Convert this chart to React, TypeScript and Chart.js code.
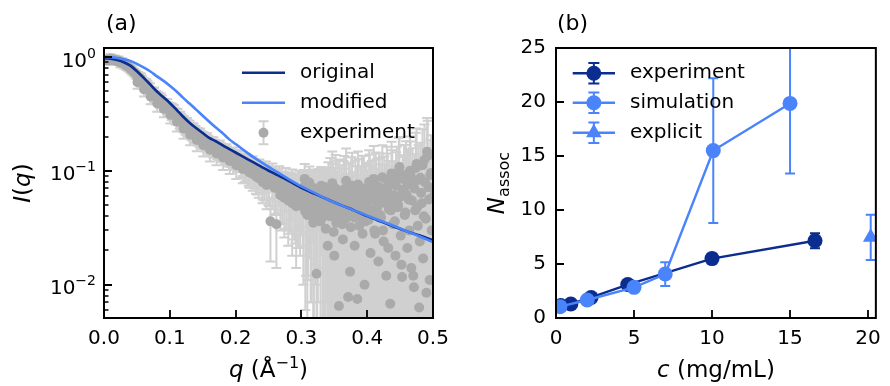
import React, { useEffect, useRef } from "react";
import { Chart, registerables } from "chart.js";

Chart.register(...registerables);

const FONT = '"DejaVu Sans", "Noto Sans", sans-serif';
const DARK = "#0a2d8f";
const LIGHT = "#4a84fb";
const GRAY = "#aaaaaa";
const LIGHTGRAY = "#d0d0d0";

// ---------- Panel (a) ----------
const qModel = [0, 0.01, 0.02, 0.03, 0.04, 0.05, 0.06, 0.07, 0.08, 0.09, 0.1, 0.11, 0.12, 0.13, 0.14, 0.15, 0.16, 0.17, 0.18, 0.19, 0.2, 0.22, 0.24, 0.26, 0.28, 0.3, 0.32, 0.34, 0.36, 0.38, 0.4, 0.42, 0.44, 0.46, 0.48, 0.5];
const iOriginal = [0.97, 0.965, 0.94, 0.9, 0.84, 0.75, 0.66, 0.575, 0.5, 0.445, 0.395, 0.345, 0.3, 0.265, 0.238, 0.215, 0.195, 0.182, 0.168, 0.156, 0.145, 0.125, 0.108, 0.094, 0.082, 0.071, 0.063, 0.056, 0.05, 0.045, 0.04, 0.036, 0.0325, 0.0295, 0.027, 0.0245];
const iModified = [1.0, 0.995, 0.98, 0.955, 0.925, 0.87, 0.81, 0.75, 0.68, 0.62, 0.56, 0.5, 0.44, 0.39, 0.345, 0.305, 0.27, 0.24, 0.215, 0.19, 0.172, 0.141, 0.118, 0.1, 0.085, 0.073, 0.064, 0.056, 0.05, 0.045, 0.0405, 0.0365, 0.033, 0.0295, 0.0265, 0.0237];

const qExp = [
  0.004, 0.007, 0.01, 0.013, 0.016, 0.019, 0.022, 0.025, 0.028, 0.031, 0.034, 0.037, 0.04, 0.043, 0.046, 0.049,
  0.052, 0.055, 0.058, 0.061, 0.064, 0.067, 0.07, 0.073, 0.076, 0.079, 0.082, 0.085, 0.088, 0.091, 0.094, 0.097, 0.1,
  0.103, 0.106, 0.109, 0.112, 0.115, 0.118, 0.121, 0.124, 0.127, 0.13, 0.133, 0.136, 0.139, 0.142, 0.145, 0.148, 0.151, 0.154, 0.157, 0.16, 0.163, 0.166, 0.169, 0.172, 0.175, 0.178, 0.181, 0.184, 0.187, 0.19, 0.193, 0.196, 0.199,
  0.202, 0.205, 0.208, 0.211, 0.214, 0.217, 0.22, 0.223, 0.226, 0.229, 0.232, 0.235, 0.238, 0.241, 0.244, 0.247, 0.25, 0.253, 0.256, 0.259, 0.262, 0.265, 0.268, 0.271, 0.274, 0.277, 0.28, 0.283, 0.286, 0.289, 0.292, 0.295, 0.298,
  0.301, 0.303, 0.305, 0.307, 0.309, 0.311, 0.313, 0.315, 0.317, 0.319,
  0.321, 0.323, 0.325, 0.327, 0.329, 0.331, 0.333, 0.335, 0.337, 0.339,
  0.341, 0.343, 0.345, 0.347, 0.349, 0.351, 0.353, 0.355, 0.357, 0.359,
  0.361, 0.363, 0.365, 0.367, 0.369, 0.371, 0.373, 0.375, 0.377, 0.379,
  0.381, 0.383, 0.385, 0.387, 0.389, 0.391, 0.393, 0.395, 0.397, 0.399,
  0.401, 0.403, 0.405, 0.407, 0.409, 0.411, 0.413, 0.415, 0.417, 0.419,
  0.421, 0.423, 0.425, 0.427, 0.429, 0.431, 0.433, 0.435, 0.437, 0.439,
  0.441, 0.443, 0.445, 0.447, 0.449, 0.451, 0.453, 0.455, 0.457, 0.459,
  0.461, 0.463, 0.465, 0.467, 0.469, 0.471, 0.473, 0.475, 0.477, 0.479,
  0.481, 0.483, 0.485, 0.487, 0.489, 0.491, 0.493, 0.495, 0.497, 0.499,
  0.051, 0.056, 0.061, 0.066, 0.071, 0.076, 0.081, 0.086, 0.091, 0.096,
  0.101, 0.106, 0.111, 0.116, 0.121, 0.126, 0.131, 0.136, 0.141, 0.146,
  0.151, 0.156, 0.161, 0.166, 0.171, 0.176, 0.181, 0.186, 0.191, 0.196,
  0.201, 0.206, 0.211, 0.216, 0.221, 0.226, 0.231, 0.236, 0.241, 0.246,
  0.251, 0.256, 0.261, 0.266, 0.271, 0.276, 0.281, 0.286, 0.291, 0.296,
  0.302, 0.304, 0.306, 0.308, 0.31, 0.312, 0.314, 0.316, 0.318, 0.32,
  0.322, 0.324, 0.326, 0.328, 0.33, 0.332, 0.334, 0.336, 0.338, 0.34,
  0.342, 0.344, 0.346, 0.348, 0.35, 0.352, 0.354, 0.356, 0.358, 0.36,
  0.362, 0.364, 0.366, 0.368, 0.37, 0.372, 0.374, 0.376, 0.378, 0.38,
  0.382, 0.384, 0.386, 0.388, 0.39, 0.392, 0.394, 0.396, 0.398, 0.4,
  0.402, 0.404, 0.406, 0.408, 0.41, 0.412, 0.414, 0.416, 0.418, 0.42,
  0.422, 0.424, 0.426, 0.428, 0.43, 0.432, 0.434, 0.436, 0.438, 0.44,
  0.442, 0.444, 0.446, 0.448, 0.45, 0.452, 0.454, 0.456, 0.458, 0.46,
  0.462, 0.464, 0.466, 0.468, 0.47, 0.472, 0.474, 0.476, 0.478, 0.48,
  0.482, 0.484, 0.486, 0.488, 0.49, 0.492, 0.494, 0.496, 0.498, 0.5,
];
const iExp = [
  0.95, 0.93, 0.97, 0.94, 0.95, 0.92, 0.93, 0.89, 0.9, 0.86, 0.84, 0.82, 0.79, 0.76, 0.73, 0.7,
  0.66, 0.65, 0.61, 0.58, 0.57, 0.53, 0.52, 0.48, 0.48, 0.45, 0.44, 0.41, 0.41, 0.38, 0.38, 0.355, 0.35,
  0.335, 0.325, 0.305, 0.3, 0.28, 0.27, 0.26, 0.25, 0.24, 0.235, 0.225, 0.215, 0.212, 0.203, 0.198, 0.19, 0.188, 0.18, 0.177, 0.17, 0.168, 0.16, 0.16, 0.155, 0.152, 0.148, 0.145, 0.14, 0.139, 0.134, 0.133, 0.128, 0.126,
  0.122, 0.126, 0.112, 0.116, 0.106, 0.11, 0.1, 0.104, 0.094, 0.098, 0.089, 0.086, 0.092, 0.08, 0.084, 0.075, 0.08, 0.036, 0.076, 0.071, 0.034, 0.072, 0.061, 0.066, 0.058, 0.064, 0.055, 0.062, 0.052, 0.06, 0.049, 0.057, 0.054,
  0.062, 0.048, 0.085, 0.052, 0.041, 0.066, 0.057, 0.045, 0.071, 0.038,
  0.055, 0.0125, 0.049, 0.068, 0.036, 0.058, 0.044, 0.072, 0.031, 0.052,
  0.061, 0.04, 0.047, 0.078, 0.029, 0.054, 0.035, 0.063, 0.0065, 0.043,
  0.057, 0.025, 0.069, 0.038, 0.048, 0.0078, 0.06, 0.032, 0.074, 0.045,
  0.022, 0.056, 0.0075, 0.065, 0.04, 0.051, 0.028, 0.07, 0.036, 0.058,
  0.047, 0.08, 0.019, 0.062, 0.042, 0.03, 0.075, 0.053, 0.016, 0.066,
  0.039, 0.088, 0.024, 0.057, 0.012, 0.072, 0.046, 0.0068, 0.095, 0.034,
  0.061, 0.018, 0.083, 0.05, 0.108, 0.027, 0.0117, 0.069, 0.041, 0.092,
  0.021, 0.056, 0.1, 0.014, 0.078, 0.0095, 0.045, 0.115, 0.033, 0.0063,
  0.087, 0.052, 0.017, 0.125, 0.038, 0.147, 0.072, 0.011, 0.096, 0.058,
  0.6, 0.64, 0.52, 0.55, 0.45, 0.47, 0.39, 0.42, 0.35, 0.37,
  0.31, 0.33, 0.27, 0.285, 0.235, 0.25, 0.208, 0.222, 0.187, 0.2,
  0.168, 0.182, 0.153, 0.166, 0.142, 0.155, 0.131, 0.143, 0.122, 0.133,
  0.112, 0.124, 0.104, 0.115, 0.097, 0.108, 0.09, 0.099, 0.083, 0.093,
  0.077, 0.087, 0.071, 0.08, 0.066, 0.075, 0.062, 0.07, 0.057, 0.065,
  0.058, 0.072, 0.044, 0.063, 0.051, 0.079, 0.047, 0.06, 0.035, 0.067,
  0.05, 0.041, 0.065, 0.056, 0.074, 0.039, 0.061, 0.048, 0.069, 0.022,
  0.054, 0.066, 0.043, 0.059, 0.018, 0.07, 0.05, 0.037, 0.064, 0.046,
  0.034, 0.062, 0.053, 0.082, 0.041, 0.058, 0.013, 0.067, 0.049, 0.039,
  0.063, 0.047, 0.076, 0.033, 0.055, 0.069, 0.044, 0.01, 0.06, 0.051,
  0.037, 0.071, 0.056, 0.045, 0.085, 0.028, 0.064, 0.049, 0.072, 0.041,
  0.058, 0.03, 0.068, 0.052, 0.083, 0.021, 0.062, 0.045, 0.077, 0.055,
  0.036, 0.074, 0.048, 0.099, 0.059, 0.015, 0.067, 0.084, 0.043, 0.062,
  0.076, 0.03, 0.091, 0.055, 0.012, 0.07, 0.106, 0.048, 0.083, 0.024,
  0.064, 0.112, 0.04, 0.079, 0.0085, 0.135, 0.056, 0.092, 0.03, 0.07,
];
const eExp = [
  0.08, 0.07, 0.09, 0.08, 0.08, 0.07, 0.08, 0.08, 0.075, 0.07, 0.07, 0.07, 0.065, 0.065, 0.06, 0.06,
  0.08, 0.07, 0.075, 0.07, 0.07, 0.065, 0.065, 0.06, 0.06, 0.055, 0.055, 0.05, 0.05, 0.05, 0.048, 0.045, 0.045,
  0.055, 0.05, 0.05, 0.048, 0.046, 0.045, 0.043, 0.042, 0.04, 0.04, 0.038, 0.037, 0.036, 0.035, 0.034, 0.033, 0.032, 0.031, 0.03, 0.03, 0.03, 0.029, 0.028, 0.028, 0.027, 0.027, 0.026, 0.026, 0.025, 0.025, 0.025, 0.024, 0.024,
  0.025, 0.026, 0.025, 0.026, 0.026, 0.027, 0.026, 0.027, 0.027, 0.028, 0.027, 0.028, 0.028, 0.028, 0.029, 0.029, 0.03, 0.02, 0.03, 0.03, 0.02, 0.031, 0.031, 0.032, 0.032, 0.033, 0.033, 0.034, 0.034, 0.035, 0.035, 0.036, 0.036,
  0.035, 0.038, 0.03, 0.04, 0.036, 0.034, 0.04, 0.038, 0.032, 0.04,
  0.04, 0.03, 0.042, 0.036, 0.042, 0.04, 0.044, 0.034, 0.042, 0.045,
  0.058, 0.04, 0.045, 0.07, 0.035, 0.052, 0.035, 0.06, 0.04, 0.042,
  0.055, 0.035, 0.066, 0.038, 0.046, 0.04, 0.058, 0.035, 0.07, 0.044,
  0.035, 0.054, 0.04, 0.062, 0.04, 0.05, 0.035, 0.066, 0.036, 0.056,
  0.045, 0.072, 0.035, 0.06, 0.041, 0.035, 0.07, 0.052, 0.035, 0.064,
  0.04, 0.08, 0.035, 0.056, 0.04, 0.07, 0.045, 0.04, 0.085, 0.04,
  0.06, 0.04, 0.08, 0.05, 0.09, 0.04, 0.045, 0.068, 0.045, 0.09,
  0.045, 0.056, 0.1, 0.05, 0.08, 0.05, 0.05, 0.12, 0.05, 0.05,
  0.09, 0.055, 0.05, 0.13, 0.05, 0.145, 0.075, 0.06, 0.11, 0.06,
  0.075, 0.075, 0.07, 0.07, 0.065, 0.065, 0.06, 0.06, 0.055, 0.055,
  0.05, 0.05, 0.048, 0.046, 0.044, 0.042, 0.04, 0.039, 0.038, 0.036,
  0.034, 0.033, 0.032, 0.031, 0.03, 0.03, 0.029, 0.028, 0.028, 0.027,
  0.027, 0.026, 0.026, 0.026, 0.026, 0.026, 0.027, 0.027, 0.027, 0.028,
  0.028, 0.029, 0.029, 0.03, 0.031, 0.031, 0.032, 0.033, 0.034, 0.035,
  0.036, 0.03, 0.038, 0.034, 0.04, 0.03, 0.04, 0.036, 0.04, 0.035,
  0.04, 0.042, 0.036, 0.042, 0.034, 0.044, 0.04, 0.044, 0.038, 0.045,
  0.052, 0.064, 0.042, 0.057, 0.035, 0.068, 0.048, 0.036, 0.062, 0.045,
  0.035, 0.06, 0.052, 0.075, 0.04, 0.056, 0.04, 0.065, 0.048, 0.038,
  0.06, 0.046, 0.072, 0.035, 0.054, 0.066, 0.043, 0.04, 0.058, 0.05,
  0.036, 0.068, 0.054, 0.044, 0.08, 0.035, 0.062, 0.048, 0.07, 0.04,
  0.056, 0.035, 0.066, 0.05, 0.08, 0.035, 0.06, 0.044, 0.075, 0.054,
  0.04, 0.072, 0.047, 0.095, 0.058, 0.04, 0.066, 0.085, 0.045, 0.062,
  0.078, 0.045, 0.09, 0.056, 0.05, 0.07, 0.11, 0.05, 0.085, 0.045,
  0.065, 0.12, 0.05, 0.08, 0.05, 0.14, 0.06, 0.095, 0.05, 0.07,
];

const qTicks = [0, 0.1, 0.2, 0.3, 0.4, 0.5];
const logMajorTicks = [0.01, 0.1, 1];
const logTickBase = "10";
const logTickExponents = ["\u22122", "\u22121", "0"];
const logMinorTicks = [0.006, 0.007, 0.008, 0.009, 0.02, 0.03, 0.04, 0.05, 0.06, 0.07, 0.08, 0.09, 0.2, 0.3, 0.4, 0.5, 0.6, 0.7, 0.8, 0.9];

// ---------- Panel (b) ----------
const cExperiment = [0.3, 0.95, 2.25, 4.6, 10.0, 16.6];
const nExperiment = [1.15, 1.3, 1.9, 3.1, 5.5, 7.15];
const errExperiment = [0.2, 0.25, 0.3, 0.35, 0.45, 0.7];
const cSimulation = [0.25, 2.0, 5.0, 7.0, 10.08, 15.0];
const nSimulation = [1.05, 1.67, 2.84, 4.07, 15.5, 19.87];
const errSimulation = [0.2, 0.3, 0.35, 1.1, 6.7, 6.5];
const cExplicit = [20.17];
const nExplicit = [7.47];
const errExplicit = [2.1];
const cTicks = [0, 5, 10, 15, 20];
const nTicks = [0, 5, 10, 15, 20, 25];

// ---------- drawing helpers ----------
type Run = { t: string; size: number; italic?: boolean; dy?: number };
const fontOf = (r: Run) => `${r.italic ? "italic " : ""}${r.size}px ${FONT}`;

function drawRuns(ctx: CanvasRenderingContext2D, runs: Run[], x: number, y: number, vertical: boolean, align: "center" | "right" = "center") {
  ctx.save();
  ctx.translate(x, y);
  if (vertical) ctx.rotate(-Math.PI / 2);
  ctx.textAlign = "left";
  ctx.textBaseline = "alphabetic";
  ctx.fillStyle = "#000";
  let total = 0;
  const widths = runs.map((r) => {
    ctx.font = fontOf(r);
    const w = ctx.measureText(r.t).width;
    total += w;
    return w;
  });
  let cx = align === "center" ? -total / 2 : -total;
  runs.forEach((r, i) => {
    ctx.font = fontOf(r);
    ctx.fillText(r.t, cx, r.dy || 0);
    cx += widths[i];
  });
  ctx.restore();
}

function drawMarker(ctx: CanvasRenderingContext2D, style: string, x: number, y: number, r: number, color: string) {
  ctx.fillStyle = color;
  ctx.beginPath();
  if (style === "triangle") {
    ctx.moveTo(x, y - r);
    ctx.lineTo(x + r * 0.866, y + r / 2);
    ctx.lineTo(x - r * 0.866, y + r / 2);
    ctx.closePath();
  } else {
    ctx.arc(x, y, r, 0, Math.PI * 2);
  }
  ctx.fill();
}

function drawErrBar(ctx: CanvasRenderingContext2D, x: number, yTop: number, yBot: number, cap: number) {
  ctx.beginPath();
  ctx.moveTo(x, yTop);
  ctx.lineTo(x, yBot);
  ctx.moveTo(x - cap, yTop);
  ctx.lineTo(x + cap, yTop);
  ctx.moveTo(x - cap, yBot);
  ctx.lineTo(x + cap, yBot);
  ctx.stroke();
}

type Spec = {
  id: string;
  panel: string;
  panelX: number;
  xTitle: Run[];
  yTitle: Run[];
  yTitleX: number;
  xTitleY: number;
  minorY: number[];
  yLabels?: { value: number; runs: Run[] }[];
  legend: { x0: number; x1: number; textX: number; rows: { index: number; y: number }[]; errHalf: number; cap: number };
};

function makeDecor(spec: Spec) {
  return {
    id: spec.id,
    beforeDatasetDraw(chart: any, args: any) {
      const ds: any = chart.data.datasets[args.index];
      if (!ds.errors) return;
      const { ctx, chartArea: ca } = chart;
      const xs = chart.scales.x;
      const ys = chart.scales.y;
      ctx.save();
      ctx.beginPath();
      ctx.rect(ca.left, ca.top, ca.right - ca.left, ca.bottom - ca.top);
      ctx.clip();
      ctx.strokeStyle = ds.errorColor;
      ctx.lineWidth = ds.errorWidth;
      ds.data.forEach((p: any, i: number) => {
        const px = xs.getPixelForValue(p.x);
        const lo = p.y - ds.errors[i];
        const hi = p.y + ds.errors[i];
        const yLo = ys.type === "logarithmic" && lo <= 0 ? ca.bottom + 30 : ys.getPixelForValue(lo);
        const yHi = ys.getPixelForValue(hi);
        drawErrBar(ctx, px, yHi, yLo, ds.capHalf);
      });
      ctx.restore();
    },
    afterDatasetsDraw(chart: any) {
      const { ctx, chartArea: ca } = chart;
      const xs = chart.scales.x;
      const ys = chart.scales.y;
      ctx.save();
      ctx.strokeStyle = "#000";
      ctx.lineWidth = 1.8;
      ctx.beginPath();
      xs.ticks.forEach((t: any) => {
        const px = Math.round(xs.getPixelForValue(t.value));
        ctx.moveTo(px, ca.bottom);
        ctx.lineTo(px, ca.bottom - 8);
      });
      ys.ticks.forEach((t: any) => {
        const py = Math.round(ys.getPixelForValue(t.value));
        ctx.moveTo(ca.left, py);
        ctx.lineTo(ca.left + 8, py);
      });
      ctx.stroke();
      ctx.lineWidth = 1.3;
      ctx.beginPath();
      spec.minorY.forEach((v) => {
        const py = Math.round(ys.getPixelForValue(v));
        if (py < ca.top || py > ca.bottom) return;
        ctx.moveTo(ca.left, py);
        ctx.lineTo(ca.left + 4.5, py);
      });
      ctx.stroke();
      ctx.lineWidth = 2;
      ctx.strokeRect(ca.left, ca.top, ca.right - ca.left, ca.bottom - ca.top);
      ctx.restore();

      if (spec.yLabels) {
        spec.yLabels.forEach((l) => {
          const py = ys.getPixelForValue(l.value);
          drawRuns(ctx, l.runs, ca.left - 8, py + 9.5, false, "right");
        });
      }

      const L = spec.legend;
      L.rows.forEach((row) => {
        const ds: any = chart.data.datasets[row.index];
        const y = row.y;
        const xm = (L.x0 + L.x1) / 2;
        ctx.save();
        if (ds.showLine !== false) {
          ctx.strokeStyle = ds.borderColor;
          ctx.lineWidth = ds.borderWidth;
          ctx.beginPath();
          ctx.moveTo(L.x0, y);
          ctx.lineTo(L.x1, y);
          ctx.stroke();
        }
        if (ds.errors) {
          ctx.strokeStyle = ds.errorColor;
          ctx.lineWidth = ds.errorWidth;
          drawErrBar(ctx, xm, y - L.errHalf, y + L.errHalf, L.cap);
        }
        if (ds.pointRadius > 0) drawMarker(ctx, ds.pointStyle || "circle", xm, y, ds.pointRadius, ds.backgroundColor);
        ctx.fillStyle = "#000";
        ctx.font = `20px ${FONT}`;
        ctx.textAlign = "left";
        ctx.textBaseline = "alphabetic";
        ctx.fillText(ds.label, L.textX, y + 5);
        ctx.restore();
      });

      drawRuns(ctx, spec.xTitle, (ca.left + ca.right) / 2, spec.xTitleY, false);
      drawRuns(ctx, spec.yTitle, spec.yTitleX, (ca.top + ca.bottom) / 2, true);
      ctx.save();
      ctx.fillStyle = "#000";
      ctx.font = `22px ${FONT}`;
      ctx.textAlign = "left";
      ctx.textBaseline = "alphabetic";
      ctx.fillText(spec.panel, ca.left + spec.panelX, 30);
      ctx.restore();
    },
  };
}

const tickFont = { family: FONT, size: 20 };

function baseAxis(extra: any) {
  return {
    grid: { display: false, drawTicks: false },
    border: { display: false },
    ...extra,
  };
}

function panelA(canvas: HTMLCanvasElement) {
  const spec: Spec = {
    id: "decorA",
    panel: "(a)",
    panelX: 2,
    xTitle: [
      { t: "q", size: 23, italic: true },
      { t: " (\u00C5", size: 23 },
      { t: "\u22121", size: 16, dy: -9 },
      { t: ")", size: 23 },
    ],
    yTitle: [
      { t: "I", size: 23, italic: true },
      { t: "(", size: 23 },
      { t: "q", size: 23, italic: true },
      { t: ")", size: 23 },
    ],
    yTitleX: 30,
    xTitleY: 377,
    minorY: logMinorTicks,
    yLabels: logMajorTicks.map((v, i) => ({
      value: v,
      runs: [
        { t: logTickBase, size: 20 },
        { t: logTickExponents[i], size: 14, dy: -9 },
      ],
    })),
    legend: {
      x0: 242,
      x1: 285,
      textX: 300,
      rows: [
        { index: 0, y: 72.7 },
        { index: 1, y: 102.7 },
        { index: 2, y: 132.7 },
      ],
      errHalf: 11.5,
      cap: 5,
    },
  };
  return new Chart(canvas, {
    type: "line",
    data: {
      datasets: [
        {
          label: "original",
          data: qModel.map((q, i) => ({ x: q, y: iOriginal[i] })),
          borderColor: DARK,
          backgroundColor: DARK,
          borderWidth: 2.6,
          pointRadius: 0,
          cubicInterpolationMode: "monotone",
          clip: 0,
          order: 1,
        },
        {
          label: "modified",
          data: qModel.map((q, i) => ({ x: q, y: iModified[i] })),
          borderColor: LIGHT,
          backgroundColor: LIGHT,
          borderWidth: 2.6,
          pointRadius: 0,
          cubicInterpolationMode: "monotone",
          clip: 0,
          order: 0,
        },
        {
          label: "experiment",
          data: qExp.map((q, i) => ({ x: q, y: iExp[i] })),
          showLine: false,
          borderColor: GRAY,
          backgroundColor: GRAY,
          pointBackgroundColor: GRAY,
          pointBorderWidth: 0,
          pointRadius: 5,
          errors: eExp,
          errorColor: LIGHTGRAY,
          errorWidth: 2,
          capHalf: 5,
          clip: 0,
          order: 2,
        } as any,
      ],
    },
    options: {
      animation: false,
      responsive: false,
      events: [],
      layout: { padding: { left: 0, top: 48, right: 47, bottom: 0 } },
      plugins: { legend: { display: false }, tooltip: { enabled: false }, title: { display: false } },
      scales: {
        x: baseAxis({
          type: "linear",
          min: 0,
          max: 0.5,
          afterBuildTicks: (s: any) => {
            s.ticks = qTicks.map((v) => ({ value: v }));
          },
          afterFit: (s: any) => {
            s.height = 68;
          },
          ticks: {
            font: tickFont,
            color: "#000",
            padding: 9,
            autoSkip: false,
            maxRotation: 0,
            callback: (v: any) => Number(v).toFixed(1),
          },
        }),
        y: baseAxis({
          type: "logarithmic",
          min: 0.0051,
          max: 1.2,
          afterBuildTicks: (s: any) => {
            s.ticks = logMajorTicks.map((v) => ({ value: v, major: true }));
          },
          afterFit: (s: any) => {
            s.width = 104;
          },
          ticks: { display: false },
        }),
      },
    } as any,
    plugins: [makeDecor(spec)],
  });
}

function panelB(canvas: HTMLCanvasElement) {
  const spec: Spec = {
    id: "decorB",
    panel: "(b)",
    panelX: 1,
    xTitle: [
      { t: "c", size: 23, italic: true },
      { t: " (mg/mL)", size: 23 },
    ],
    yTitle: [
      { t: "N", size: 23, italic: true },
      { t: "assoc", size: 16, dy: 5 },
    ],
    yTitleX: 23.5,
    xTitleY: 377,
    minorY: [],
    legend: {
      x0: 92.7,
      x1: 135,
      textX: 150,
      rows: [
        { index: 0, y: 73.3 },
        { index: 1, y: 102.7 },
        { index: 2, y: 132.7 },
      ],
      errHalf: 10.3,
      cap: 5.5,
    },
  };
  const common = { pointBorderWidth: 0, borderWidth: 2.4, errorWidth: 2, capHalf: 5, clip: 0 };
  return new Chart(canvas, {
    type: "line",
    data: {
      datasets: [
        {
          label: "experiment",
          data: cExperiment.map((c, i) => ({ x: c, y: nExperiment[i] })),
          borderColor: DARK,
          backgroundColor: DARK,
          pointBackgroundColor: DARK,
          pointRadius: 7.5,
          pointStyle: "circle",
          errors: errExperiment,
          errorColor: DARK,
          order: 3,
          ...common,
        } as any,
        {
          label: "simulation",
          data: cSimulation.map((c, i) => ({ x: c, y: nSimulation[i] })),
          borderColor: LIGHT,
          backgroundColor: LIGHT,
          pointBackgroundColor: LIGHT,
          pointRadius: 7.5,
          pointStyle: "circle",
          errors: errSimulation,
          errorColor: LIGHT,
          order: 2,
          ...common,
        } as any,
        {
          label: "explicit",
          data: cExplicit.map((c, i) => ({ x: c, y: nExplicit[i] })),
          borderColor: LIGHT,
          backgroundColor: LIGHT,
          pointBackgroundColor: LIGHT,
          pointRadius: 9,
          pointStyle: "triangle",
          errors: errExplicit,
          errorColor: LIGHT,
          order: 1,
          ...common,
        } as any,
      ],
    },
    options: {
      animation: false,
      responsive: false,
      events: [],
      layout: { padding: { left: 0, top: 48, right: 5, bottom: 0 } },
      plugins: { legend: { display: false }, tooltip: { enabled: false }, title: { display: false } },
      scales: {
        x: baseAxis({
          type: "linear",
          min: 0,
          max: 20.5,
          afterBuildTicks: (s: any) => {
            s.ticks = cTicks.map((v) => ({ value: v }));
          },
          afterFit: (s: any) => {
            s.height = 68;
          },
          ticks: {
            font: tickFont,
            color: "#000",
            padding: 9,
            autoSkip: false,
            maxRotation: 0,
            callback: (v: any) => String(v),
          },
        }),
        y: baseAxis({
          type: "linear",
          min: 0,
          max: 25,
          afterBuildTicks: (s: any) => {
            s.ticks = nTicks.map((v) => ({ value: v }));
          },
          afterFit: (s: any) => {
            s.width = 76;
          },
          ticks: {
            font: tickFont,
            color: "#000",
            padding: 10,
            autoSkip: false,
            callback: (v: any) => String(v),
          },
        }),
      },
    } as any,
    plugins: [makeDecor(spec)],
  });
}

export default function App() {
  const refA = useRef<HTMLCanvasElement>(null);
  const refB = useRef<HTMLCanvasElement>(null);
  useEffect(() => {
    const a = panelA(refA.current!);
    const b = panelB(refB.current!);
    return () => {
      a.destroy();
      b.destroy();
    };
  }, []);
  return (
    <div style={{ position: "absolute", left: 0, top: 0, width: 890, height: 386, background: "#fff", overflow: "hidden" }}>
      <canvas ref={refA} width={480} height={386} style={{ position: "absolute", left: 0, top: 0, width: 480, height: 386 }} />
      <canvas ref={refB} width={410} height={386} style={{ position: "absolute", left: 480, top: 0, width: 410, height: 386 }} />
    </div>
  );
}
